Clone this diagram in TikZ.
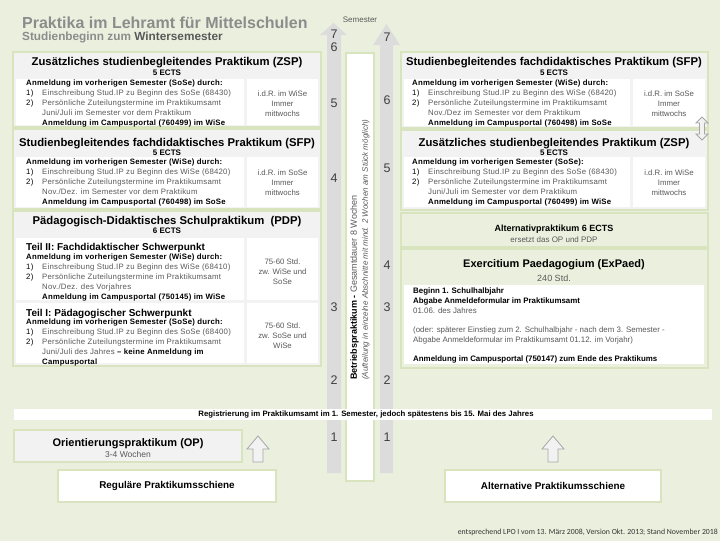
\documentclass[tikz,border=0pt]{standalone}
\usepackage{fontspec}
\setmainfont{Liberation Sans}
\newfontfamily\notefont{Carlito}
\newfontfamily\spacedfont[LetterSpace=3]{Liberation Sans}
\usetikzlibrary{positioning}
\definecolor{bgc}{HTML}{EBF0DE}
\definecolor{framec}{HTML}{D7E4BD}
\definecolor{headc}{HTML}{F2F2F2}
\definecolor{barc}{HTML}{DCDCDC}
\definecolor{titlec}{HTML}{8C8C8C}
\definecolor{txtc}{HTML}{595959}
\newcommand{\fs}[2]{\fontsize{#1}{#2}\selectfont}
\newcommand{\numitem}[2]{\makebox[16pt][l]{#1}{\color{txtc}#2}}
\newcommand{\contline}[1]{\hspace*{16pt}{\color{txtc}#1}}
\newcommand{\boldline}[1]{\hspace*{16pt}\textbf{#1}}
\tikzset{
  box/.style={draw=framec, line width=1.5pt, fill=headc},
  cell/.style={fill=white},
  hd/.style={font=\fs{11.3}{13}\bfseries, anchor=base, inner sep=0pt},
  ects/.style={font=\fs{8}{9}\bfseries, anchor=base, inner sep=0pt},
  txt/.style={font=\spacedfont\fs{7.8}{10}, align=left, anchor=north west, inner sep=0pt},
  side/.style={font=\fs{7.8}{10}, align=center, text=txtc, inner sep=0pt},
  teil/.style={font=\fs{10}{11}\bfseries, anchor=base west, inner sep=0pt},
  semnum/.style={font=\fs{12.5}{12.5}, text=black!75, inner sep=0pt},
  semarrow/.style={fill=barc},
  railbox/.style={draw=framec, line width=2pt, fill=white},
  blockup/.style={draw=black!35, fill=headc, line width=0.8pt},
}
\begin{document}
\begin{tikzpicture}[x=1pt, y=-1pt]
\useasboundingbox[fill=bgc] (0,0) rectangle (720,541);
\node[font=\fs{16}{18}\bfseries, text=titlec, anchor=base west, inner sep=0pt] (title) at (22,28) {Praktika im Lehramt für Mittelschulen};
\node[font=\fs{11.8}{13}\bfseries, text=titlec, anchor=base west, inner sep=0pt] (subtitle) at (22,40) {Studienbeginn zum \textcolor{txtc}{Wintersemester}};

\draw[box] (13,52) rectangle (321,127);
\fill[cell] (16,79) rectangle (244,125) (247,79) rectangle (318,125);
\node[hd] (zspl) at (167,65) {Zusätzliches studienbegleitendes Praktikum (ZSP)};
\node[ects] (zsplects) at (167,75.5) {5 ECTS};
\node[txt] (zspltext) at (26,80) {\textbf{Anmeldung im vorherigen Semester (SoSe) durch:}\\
  \numitem{1)}{Einschreibung Stud.IP zu Beginn des SoSe (68430)}\\
  \numitem{2)}{Persönliche Zuteilungstermine im Praktikumsamt}\\
  \contline{Juni/Juli im Semester vor dem Praktikum}\\
  \boldline{Anmeldung im Campusportal (760499) im WiSe}};
\node[side] (zsplside) at (282.5,104) {i.d.R. im WiSe\\Immer\\mittwochs};

\draw[box] (13,129) rectangle (321,209);
\fill[cell] (16,157) rectangle (244,207) (247,157) rectangle (318,207);
\node[hd] (sfpl) at (167,146) {Studienbegleitendes fachdidaktisches Praktikum (SFP)};
\node[ects] (sfplects) at (167,155.5) {5 ECTS};
\node[txt] (sfpltext) at (26,159) {\textbf{Anmeldung im vorherigen Semester (WiSe) durch:}\\
  \numitem{1)}{Einschreibung Stud.IP zu Beginn des WiSe (68420)}\\
  \numitem{2)}{Persönliche Zuteilungstermine im Praktikumsamt}\\
  \contline{Nov./Dez. im Semester vor dem Praktikum}\\
  \boldline{Anmeldung im Campusportal (760498) im SoSe}};
\node[side] (sfplside) at (282.5,183) {i.d.R. im SoSe\\Immer\\mittwochs};

\draw[box] (13,211) rectangle (321,366);
\fill[cell] (16,238) rectangle (244,300) (247,238) rectangle (318,300)
  (16,303) rectangle (244,363) (247,303) rectangle (318,363);
\node[hd] (pdp) at (167,224) {Pädagogisch-Didaktisches Schulpraktikum \ (PDP)};
\node[ects] (pdpects) at (167,233.5) {6 ECTS};
\node[teil] (teilzwei) at (26,250) {Teil II: Fachdidaktischer Schwerpunkt};
\node[txt] (teilzweitext) at (26,254) {\textbf{Anmeldung im vorherigen Semester (WiSe) durch:}\\
  \numitem{1)}{Einschreibung Stud.IP zu Beginn des WiSe (68410)}\\
  \numitem{2)}{Persönliche Zuteilungstermine im Praktikumsamt}\\
  \contline{Nov./Dez. des Vorjahres}\\
  \boldline{Anmeldung im Campusportal (750145) im WiSe}};
\node[side] (teilzweiside) at (282.5,272) {75-60 Std.\\zw. WiSe und\\SoSe};
\node[teil] (teileins) at (26,316) {Teil I: Pädagogischer Schwerpunkt};
\node[txt] (teileinstext) at (26,319) {\textbf{Anmeldung im vorherigen Semester (SoSe) durch:}\\
  \numitem{1)}{Einschreibung Stud.IP zu Beginn des SoSe (68400)}\\
  \numitem{2)}{Persönliche Zuteilungstermine im Praktikumsamt}\\
  \contline{Juni/Juli des Jahres} \textbf{– keine Anmeldung im}\\
  \boldline{Campusportal}};
\node[side] (teileinsside) at (282.5,336) {75-60 Std.\\zw. SoSe und\\WiSe};

\draw[box] (401,52) rectangle (708,128);
\fill[cell] (404,79) rectangle (630,126) (633,79) rectangle (705,126);
\node[hd] (sfpr) at (554,65) {Studienbegleitendes fachdidaktisches Praktikum (SFP)};
\node[ects] (sfprects) at (554,75.5) {5 ECTS};
\node[txt] (sfprtext) at (412,80) {\textbf{Anmeldung im vorherigen Semester (WiSe) durch:}\\
  \numitem{1)}{Einschreibung Stud.IP zu Beginn des WiSe (68420)}\\
  \numitem{2)}{Persönliche Zuteilungstermine im Praktikumsamt}\\
  \contline{Nov./Dez im Semester vor dem Praktikum}\\
  \boldline{Anmeldung im Campusportal (760498) im SoSe}};
\node[side] (sfprside) at (669,104) {i.d.R. im SoSe\\Immer\\mittwochs};

\draw[box] (401,130) rectangle (708,210);
\fill[cell] (404,157) rectangle (630,207) (633,157) rectangle (705,207);
\node[hd] (zspr) at (554,146) {Zusätzliches studienbegleitendes Praktikum (ZSP)};
\node[ects] (zsprects) at (554,155.5) {5 ECTS};
\node[txt] (zsprtext) at (412,159) {\textbf{Anmeldung im vorherigen Semester (SoSe):}\\
  \numitem{1)}{Einschreibung Stud.IP zu Beginn des SoSe (68430)}\\
  \numitem{2)}{Persönliche Zuteilungstermine im Praktikumsamt}\\
  \contline{Juni/Juli im Semester vor dem Praktikum}\\
  \boldline{Anmeldung im Campusportal (760499) im WiSe}};
\node[side] (zsprside) at (669,183) {i.d.R. im WiSe\\Immer\\mittwochs};

\draw[blockup] (702,117) -- (708,123) -- (704.5,123) -- (704.5,134) -- (708,134) -- (702,140)
  -- (696,134) -- (699.5,134) -- (699.5,123) -- (696,123) -- cycle;

\draw[box, fill=bgc] (401,213) rectangle (708,247);
\node[ects, font=\fs{9}{10}\bfseries] (alt) at (554,231) {Alternativpraktikum 6 ECTS};
\node[ects, font=\fs{8}{9}, text=txtc] (altsub) at (554,242) {ersetzt das OP und PDP};

\draw[box, fill=bgc] (401,249) rectangle (708,368);
\fill[cell] (404,285) rectangle (704,364);
\node[hd, font=\fs{11}{12}\bfseries] (expaed) at (554,267) {Exercitium Paedagogium (ExPaed)};
\node[hd, font=\fs{9}{11}, text=txtc] (expaedstd) at (554,281) {240 Std.};
\node[txt, font=\fs{7.9}{9.8}] (expaedtext) at (413,288) {\textbf{Beginn 1. Schulhalbjahr}\\
  \textbf{Abgabe Anmeldeformular im Praktikumsamt}\\
  {\color{txtc}01.06. des Jahres}\\[9.5pt]
  {\color{txtc}(oder: späterer Einstieg zum 2. Schulhalbjahr - nach dem 3. Semester -}\\
  {\color{txtc}Abgabe Anmeldeformular im Praktikumsamt 01.12. im Vorjahr)}\\[9.5pt]
  \textbf{Anmeldung im Campusportal (750147) zum Ende des Praktikums}};

\fill[semarrow] (327,473) -- (327,35) -- (320,35) -- (333.5,23) -- (347,35) -- (341,35) -- (341,473) -- cycle;
\fill[semarrow] (380,473) -- (380,45) -- (373,45) -- (386.5,24) -- (400,45) -- (393,45) -- (393,473) -- cycle;
\node[font=\fs{8}{9}, text=txtc, inner sep=0pt] (semester) at (360,20) {Semester};
\foreach \n/\y in {7/34,6/47,5/103,4/178,3/307,2/380,1/437}
  \node[semnum] (l\n) at (334,\y) {\n};
\foreach \n/\y in {7/37,6/100,5/168,4/265,3/307,2/380,1/437}
  \node[semnum] (r\n) at (387,\y) {\n};

\draw[draw=framec, line width=1.5pt, fill=white] (346,53) rectangle (374,481);
\node[rotate=90, anchor=west, align=left, inner sep=0pt, font=\fs{9}{11}] (bp) at (360,380)
  {\textbf{Betriebspraktikum -} {\color{txtc}Gesamtdauer 8 Wochen}\\
   {\fs{8}{10}\itshape\color{txtc}(Aufteilung in einzelne Abschnitte mit mind. 2 Wochen am Stück möglich)}};

\fill[white] (14,409) rectangle (712,420);
\node[font=\fs{7.8}{8}\bfseries, inner sep=0pt] (reg) at (366,414.5) {Registrierung im Praktikumsamt im 1. Semester, jedoch spätestens bis 15. Mai des Jahres};

\draw[box] (14,430) rectangle (242,462);
\node[hd, font=\fs{11}{12}\bfseries] (op) at (128,446) {Orientierungspraktikum (OP)};
\node[hd, font=\fs{8.5}{9}, text=txtc] (opsub) at (128,457.5) {3-4 Wochen};

\draw[blockup] (253,462) -- (253,449) -- (247,449) -- (258,436) -- (269,449) -- (263,449) -- (263,462) -- cycle;
\draw[blockup] (548,462) -- (548,449) -- (542,449) -- (553,436) -- (564,449) -- (558,449) -- (558,462) -- cycle;

\draw[railbox] (58,470) rectangle (276,502);
\node[font=\fs{9.9}{11}\bfseries, inner sep=0pt] (regulaer) at (167,486) {Reguläre Praktikumsschiene};
\draw[railbox] (445,470) rectangle (661,502);
\node[font=\fs{9.9}{11}\bfseries, inner sep=0pt] (alternativ) at (553,486) {Alternative Praktikumsschiene};

\node[font=\notefont\fs{7.8}{8}, text=black!80, anchor=base east, inner sep=0pt] (stand) at (718,534) {entsprechend LPO I vom 13. März 2008, Version Okt. 2013; Stand November 2018};
\end{tikzpicture}
\end{document}
